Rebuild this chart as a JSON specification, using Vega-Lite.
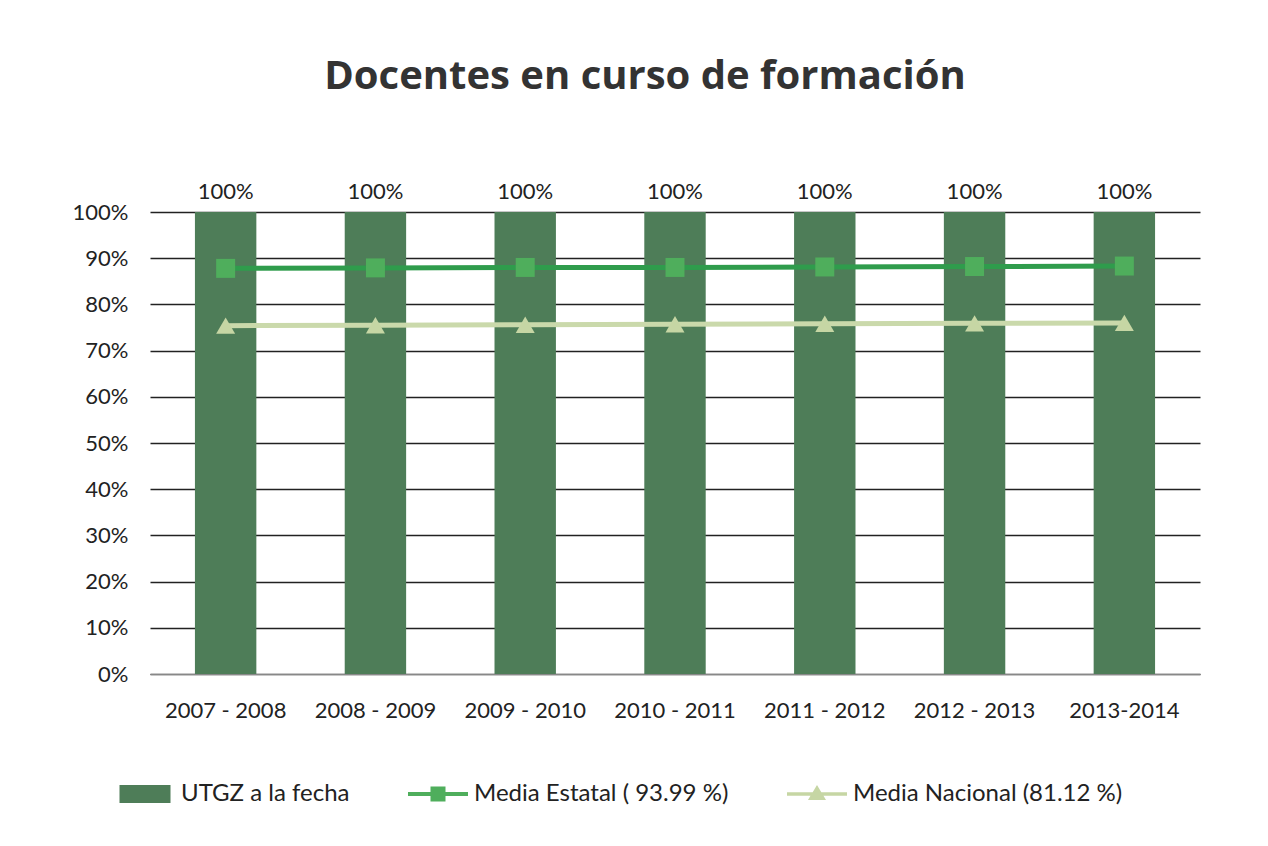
{
  "$schema": "https://vega.github.io/schema/vega-lite/v6.json",
  "width": 1050,
  "height": 462,
  "autosize": {"type": "none"},
  "padding": {"left": 150, "top": 212, "right": 68, "bottom": 172},
  "background": "white",
  "title": {
    "text": "Docentes en curso de formación",
    "font": "Open Sans",
    "fontSize": 40,
    "fontWeight": "bold",
    "color": "#333333",
    "anchor": "middle",
    "dx": -30,
    "offset": 84
  },
  "config": {
    "view": {"stroke": null},
    "font": "Lato"
  },
  "data": {
    "values": [
      {"periodo": "2007  - 2008", "serie": "UTGZ a la fecha", "valor": 1.0},
      {"periodo": "2008  - 2009", "serie": "UTGZ a la fecha", "valor": 1.0},
      {"periodo": "2009 - 2010", "serie": "UTGZ a la fecha", "valor": 1.0},
      {"periodo": "2010 - 2011", "serie": "UTGZ a la fecha", "valor": 1.0},
      {"periodo": "2011 - 2012", "serie": "UTGZ a la fecha", "valor": 1.0},
      {"periodo": "2012 - 2013", "serie": "UTGZ a la fecha", "valor": 1.0},
      {"periodo": "2013-2014", "serie": "UTGZ a la fecha", "valor": 1.0},
      {"periodo": "2007  - 2008", "serie": "Media Estatal ( 93.99 %)", "valor": 0.878},
      {"periodo": "2008  - 2009", "serie": "Media Estatal ( 93.99 %)", "valor": 0.879},
      {"periodo": "2009 - 2010", "serie": "Media Estatal ( 93.99 %)", "valor": 0.88},
      {"periodo": "2010 - 2011", "serie": "Media Estatal ( 93.99 %)", "valor": 0.88},
      {"periodo": "2011 - 2012", "serie": "Media Estatal ( 93.99 %)", "valor": 0.881},
      {"periodo": "2012 - 2013", "serie": "Media Estatal ( 93.99 %)", "valor": 0.882},
      {"periodo": "2013-2014", "serie": "Media Estatal ( 93.99 %)", "valor": 0.883},
      {"periodo": "2007  - 2008", "serie": "Media Nacional (81.12 %)", "valor": 0.754},
      {"periodo": "2008  - 2009", "serie": "Media Nacional (81.12 %)", "valor": 0.755},
      {"periodo": "2009 - 2010", "serie": "Media Nacional (81.12 %)", "valor": 0.756},
      {"periodo": "2010 - 2011", "serie": "Media Nacional (81.12 %)", "valor": 0.757},
      {"periodo": "2011 - 2012", "serie": "Media Nacional (81.12 %)", "valor": 0.758},
      {"periodo": "2012 - 2013", "serie": "Media Nacional (81.12 %)", "valor": 0.759},
      {"periodo": "2013-2014", "serie": "Media Nacional (81.12 %)", "valor": 0.76}
    ]
  },
  "encoding": {
    "x": {
      "field": "periodo",
      "type": "nominal",
      "sort": null,
      "scale": {"paddingInner": 0.59, "paddingOuter": 0.3},
      "axis": {
        "title": null,
        "labelAngle": 0,
        "labelFontSize": 22,
        "labelColor": "#222222",
        "labelPadding": 26,
        "ticks": false,
        "domainColor": "#888888",
        "domainWidth": 1
      }
    },
    "y": {
      "field": "valor",
      "type": "quantitative",
      "scale": {"domain": [0, 1]},
      "axis": {
        "title": null,
        "format": ".0%",
        "values": [0, 0.1, 0.2, 0.3, 0.4, 0.5, 0.6, 0.7, 0.8, 0.9, 1.0],
        "labelFontSize": 22,
        "labelColor": "#222222",
        "labelPadding": 22,
        "domain": false,
        "ticks": false,
        "grid": true,
        "gridColor": "#222222",
        "gridWidth": 1.3
      }
    }
  },
  "layer": [
    {
      "transform": [{"filter": "datum.serie === 'UTGZ a la fecha'"}],
      "mark": {"type": "bar", "opacity": 1},
      "encoding": {
        "fill": {
          "field": "serie",
          "type": "nominal",
          "sort": null,
          "scale": {
            "domain": ["UTGZ a la fecha", "Media Estatal ( 93.99 %)", "Media Nacional (81.12 %)"],
            "range": ["#4e7d58", "#4fae5c", "#c6d6a4"]
          },
          "legend": {
            "title": null,
            "orient": "none",
            "direction": "horizontal",
            "legendX": -35,
            "legendY": 552,
            "labelFontSize": 24,
            "labelColor": "#222222",
            "labelOffset": 6,
            "symbolSize": 3600,
            "symbolStrokeWidth": 0,
            "columnPadding": 58,
            "labelLimit": 400,
            "symbolType": {"expr": "datum.value === 'UTGZ a la fecha' ? 'M-0.85,-0.3H0.85V0.3H-0.85Z' : datum.value === 'Media Estatal ( 93.99 %)' ? 'M-1,-0.07H-0.25V-0.25H0.25V-0.07H1V0.07H0.25V0.25H-0.25V0.07H-1Z' : 'M-1,-0.06H-0.144L0,-0.3L0.144,-0.06H1V0.06H0.216L0.3,0.2H-0.3L-0.216,0.06H-1Z'"}
          }
        }
      }
    },
    {
      "transform": [{"filter": "datum.serie === 'UTGZ a la fecha'"}],
      "mark": {"type": "text", "dy": -20, "fontSize": 22, "color": "#222222"},
      "encoding": {
        "text": {"field": "valor", "type": "quantitative", "format": ".0%"}
      }
    },
    {
      "transform": [{"filter": "datum.serie !== 'UTGZ a la fecha'"}],
      "mark": {"type": "line", "strokeWidth": 5},
      "encoding": {
        "stroke": {
          "field": "serie",
          "type": "nominal",
          "scale": {
            "domain": ["Media Estatal ( 93.99 %)", "Media Nacional (81.12 %)"],
            "range": ["#2f9c4c", "#cad9ab"]
          },
          "legend": null
        }
      }
    },
    {
      "transform": [{"filter": "datum.serie !== 'UTGZ a la fecha'"}],
      "mark": {"type": "point", "filled": true, "size": 360, "opacity": 1, "strokeWidth": 0},
      "encoding": {
        "shape": {
          "field": "serie",
          "type": "nominal",
          "scale": {
            "domain": ["Media Estatal ( 93.99 %)", "Media Nacional (81.12 %)"],
            "range": ["square", "triangle-up"]
          },
          "legend": null
        },
        "fill": {
          "field": "serie",
          "type": "nominal"
        }
      }
    }
  ]
}
